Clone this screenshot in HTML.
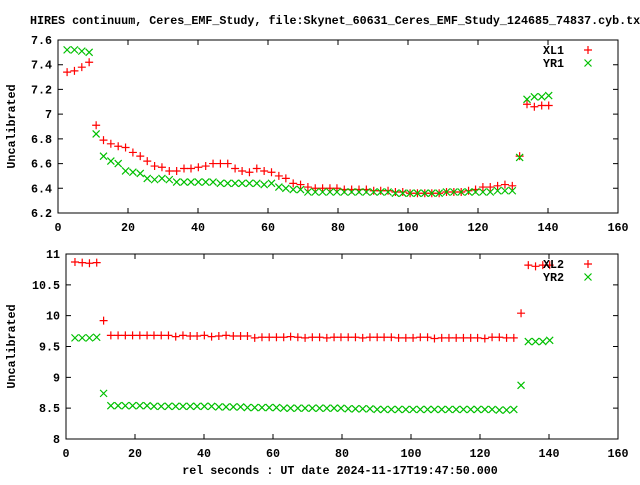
<!DOCTYPE html>
<html><head><meta charset="utf-8"><style>
body{margin:0;background:#fff}
svg text{font-family:"Liberation Mono",monospace;font-weight:bold;font-size:11.7px;fill:#000}
</style></head><body>
<svg id="chart" width="640" height="480" viewBox="0 0 640 480" xmlns="http://www.w3.org/2000/svg">
<rect width="640" height="480" fill="#fff"/>
<text x="30" y="24">HIRES continuum, Ceres_EMF_Study, file:Skynet_60631_Ceres_EMF_Study_124685_74837.cyb.txt</text>
<text x="340" y="474" text-anchor="middle">rel seconds : UT date 2024-11-17T19:47:50.000</text>
</svg>
<script>
const times=[2.6,4.7,6.8,8.9,10.9,13.0,15.1,17.2,19.3,21.4,23.5,25.5,27.6,29.7,31.8,33.9,36.0,38.0,40.1,42.2,44.3,46.4,48.5,50.6,52.6,54.7,56.8,58.9,61.0,63.1,65.1,67.2,69.3,71.4,73.5,75.6,77.7,79.7,81.8,83.9,86.0,88.1,90.2,92.2,94.3,96.4,98.5,100.6,102.7,104.8,106.8,108.9,111.0,113.1,115.2,117.3,119.3,121.4,123.5,125.6,127.7,129.8,131.9,134.0,136.1,138.2,140.2];
const xl1=[7.34,7.35,7.38,7.42,6.91,6.79,6.76,6.74,6.73,6.69,6.66,6.62,6.58,6.57,6.54,6.54,6.56,6.56,6.57,6.58,6.60,6.60,6.60,6.56,6.54,6.53,6.56,6.54,6.53,6.50,6.48,6.44,6.43,6.41,6.40,
6.40,6.40,6.40,6.39,6.39,6.39,6.39,6.38,6.38,6.38,6.37,6.37,6.36,6.36,6.36,6.36,6.36,6.37,6.37,6.37,6.38,6.39,6.41,6.41,6.42,6.43,6.42,
6.66,7.08,7.06,7.07,7.07];
const yr1=[7.52,7.52,7.51,7.50,6.84,6.66,6.62,6.60,6.54,6.53,6.52,6.48,6.47,6.48,6.47,6.45,6.45,6.45,6.45,6.45,6.45,6.44,6.44,6.44,6.44,6.44,6.44,6.43,6.44,6.41,6.40,6.39,6.39,6.37,6.37,
6.37,6.37,6.37,6.37,6.37,6.37,6.37,6.37,6.37,6.37,6.36,6.36,6.36,6.36,6.36,6.36,6.36,6.37,6.37,6.37,6.37,6.37,6.37,6.37,6.38,6.38,6.38,
6.65,7.12,7.14,7.14,7.15];
const xl2=[10.87,10.86,10.85,10.86,9.92,
9.68,9.68,9.68,9.68,9.68,9.68,9.68,9.68,9.68,9.66,
9.68,9.67,9.67,9.68,9.66,9.67,9.68,9.67,9.67,9.67,
9.64,9.65,9.65,9.65,9.65,9.66,9.65,9.64,9.65,9.65,
9.64,9.65,9.65,9.65,9.65,9.64,9.65,9.65,9.65,9.65,
9.64,9.64,9.64,9.65,9.65,9.63,9.64,9.64,9.64,9.64,
9.64,9.64,9.63,9.65,9.65,9.64,9.64,
10.04,10.82,10.80,10.82,10.82];
const yr2=[9.64,9.64,9.64,9.65,8.74,
8.54,8.54,8.54,8.54,8.54,8.54,8.53,8.53,8.53,8.53,
8.53,8.53,8.53,8.53,8.53,8.52,8.52,8.52,8.52,8.51,
8.51,8.51,8.51,8.51,8.50,8.50,8.50,8.50,8.50,8.50,
8.50,8.50,8.50,8.49,8.49,8.49,8.49,8.48,8.48,8.48,
8.48,8.48,8.48,8.48,8.48,8.48,8.48,8.48,8.48,8.48,
8.48,8.48,8.48,8.48,8.47,8.47,8.48,
8.87,9.58,9.58,9.58,9.60];
const xTicks=[0,20,40,60,80,100,120,140,160];
const yTicksTop=[6.2,6.4,6.6,6.8,7,7.2,7.4,7.6];
const yTicksBot=[8,8.5,9,9.5,10,10.5,11];
const seriesNamesTop=["XL1","YR1"];
const seriesNamesBot=["XL2","YR2"];

const svg=document.getElementById('chart');
const NS='http://www.w3.org/2000/svg';
function mk(tag,attrs,parent){const e=document.createElementNS(NS,tag);for(const k in attrs)e.setAttribute(k,attrs[k]);(parent||svg).appendChild(e);return e;}
function marker(g,type,cx,cy,color){
  const p=mk('path',{stroke:color,'stroke-width':1.2,fill:'none',d:type==='plus'?`M${cx-4},${cy}H${cx+4}M${cx},${cy-4}V${cy+4}`:`M${cx-3.5},${cy-3.5}L${cx+3.5},${cy+3.5}M${cx-3.5},${cy+3.5}L${cx+3.5},${cy-3.5}`},g);
  return p;
}
function panel(id,x0,x1,yT,yB,ymin,ymax,yTicks,s1,s2,names,legY){
  const g=mk('g',{});
  
  
  const sx=v=>x0+(v-0)/(160-0)*(x1-x0);
  const sy=v=>yB-(v-ymin)/(ymax-ymin)*(yB-yT);
  const fr=mk('rect',{x:x0,y:yT,width:x1-x0,height:yB-yT,fill:'none',stroke:'#000','stroke-width':1},g);
  
  
  xTicks.forEach(t=>{
    const x=sx(t);
    mk('path',{d:`M${x},${yB}v-5M${x},${yT}v5`,stroke:'#000'},g);
    const tx=mk('text',{x:x,y:yB+18,'text-anchor':'middle'},g);tx.textContent=t;
    
    
  });
  yTicks.forEach(t=>{
    const y=sy(t);
    mk('path',{d:`M${x0},${y}h5M${x1},${y}h-5`,stroke:'#000'},g);
    const tx=mk('text',{x:x0-6,y:y+4,'text-anchor':'end'},g);tx.textContent=String(t);
    
    
  });
  const yl=mk('text',{x:0,y:0,'text-anchor':'middle',transform:`translate(15,${(yT+yB)/2}) rotate(-90)`},g);
  yl.textContent='Uncalibrated';
  
  
  const g1=mk('g',{},g);
  
  
  const g2=mk('g',{},g);
  
  
  times.forEach((t,i)=>{
    const m1=marker(g1,'plus',sx(t),sy(s1[i]),'#ff0000');
    
    
    const m2=marker(g2,'cross',sx(t),sy(s2[i]),'#00c000');
    
    
  });
  names.forEach((n,k)=>{
    const y=legY+k*13;
    const lt=mk('text',{x:564,y:y+4,'text-anchor':'end'},g);lt.textContent=n;
    
    
    const lm=marker(g,k===0?'plus':'cross',588,y,k===0?'#ff0000':'#00c000');
    
    
  });
}
panel('top',58,618,40,213,6.2,7.6,yTicksTop,xl1,yr1,seriesNamesTop,50);
panel('bottom',66,618,254,439,8,11,yTicksBot,xl2,yr2,seriesNamesBot,264);
</script>
</body></html>
